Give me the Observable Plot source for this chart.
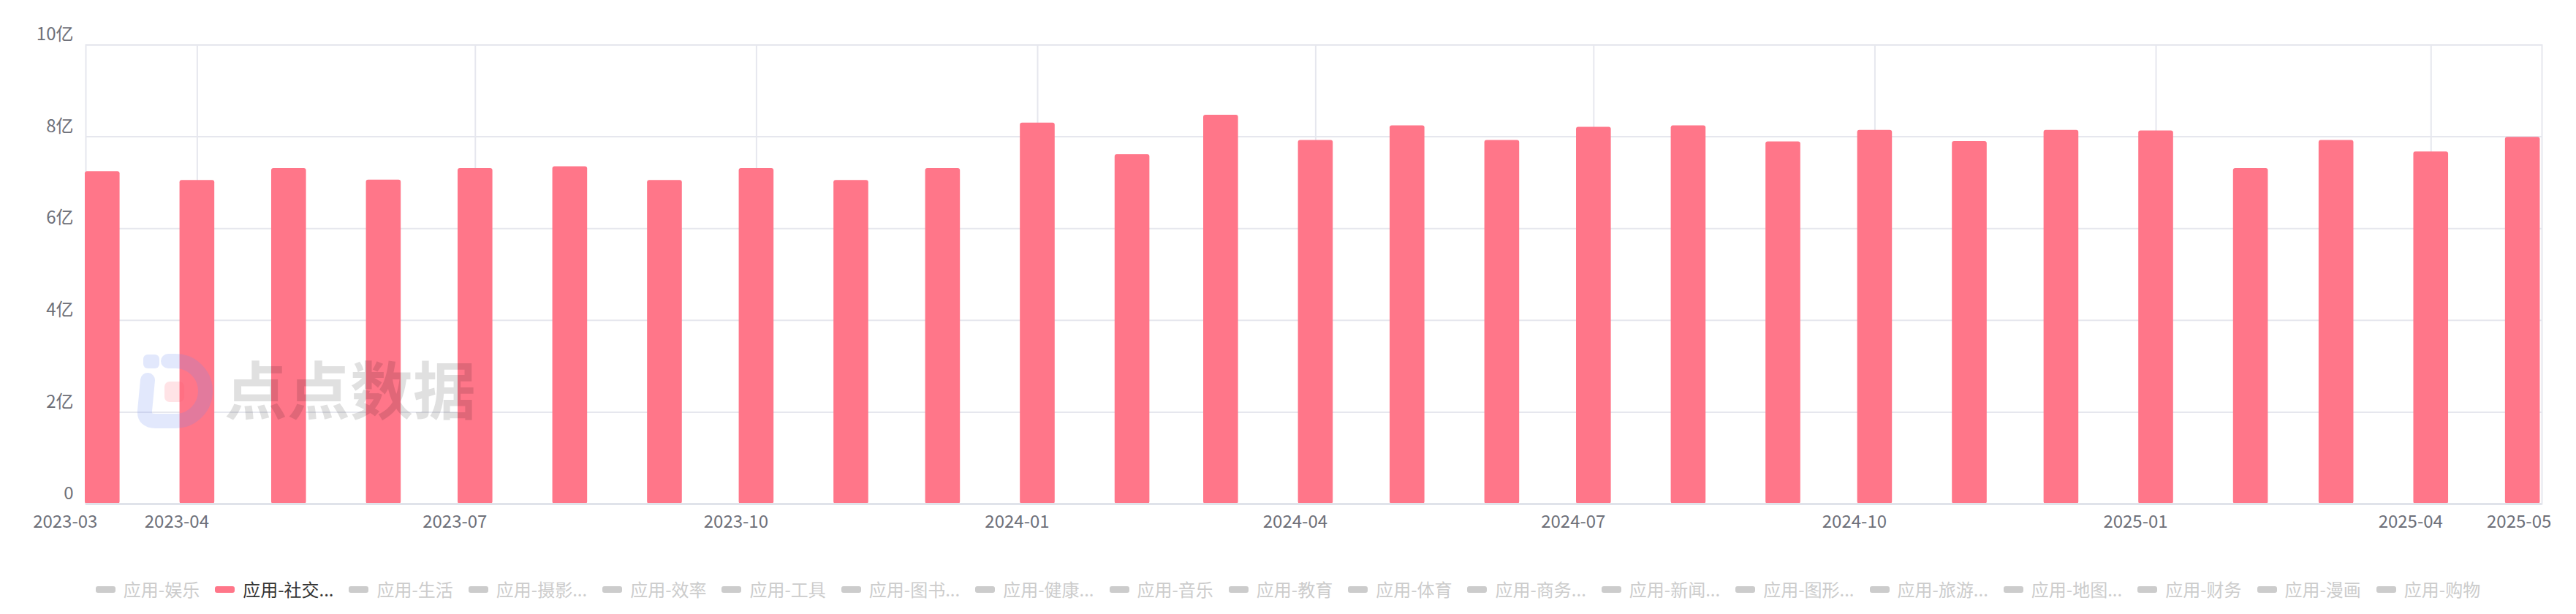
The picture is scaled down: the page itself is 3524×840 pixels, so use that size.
<!DOCTYPE html>
<html>
<head>
<meta charset="utf-8">
<script src="https://cdn.jsdelivr.net/npm/d3@7"></script>
<script src="https://cdn.jsdelivr.net/npm/@observablehq/plot@0.6"></script>
<style>
  html, body { margin: 0; padding: 0; background: #fff; }
  #wrap { position: relative; width: 3524px; height: 840px; overflow: hidden; font-family: "Noto Sans CJK SC", "Noto Sans", sans-serif; }
  #chart svg { display: block; }
  #legend { position: absolute; left: 0; top: 788px; width: 3524px; display: flex; justify-content: center; align-items: center; font-size: 24px; line-height: 36px; }
  .item { display: flex; align-items: center; margin: 0 10.5px; color: #cccccc; white-space: nowrap; }
  .item.active { color: #333333; }
  .sw { width: 27px; height: 9px; border-radius: 3px; background: #cccccc; margin-right: 11px; }
  .item.active .sw { background: #ff7689; }
  #wm { position: absolute; left: 185px; top: 482px; pointer-events: none; }
  #wmText { position: absolute; left: 307px; top: 487px; font-size: 86px; line-height: 1; font-weight: 700; color: rgba(0,0,0,0.12); letter-spacing: 0px; font-family: "Noto Sans CJK SC", sans-serif; pointer-events: none; }
</style>
</head>
<body>
<div id="wrap">
  <div id="chart"></div>
  <svg id="wm" width="115" height="110" viewBox="0 0 115 110">
    <rect x="11" y="3" width="22" height="19" rx="6" fill="rgba(110,140,240,0.2)"/>
    <path d="M 17 38 L 13 80 Q 12 94 28 94 H 55 A 41 41 0 0 0 55 12 H 45" fill="none" stroke="rgba(110,140,240,0.2)" stroke-width="20" stroke-linecap="round" stroke-linejoin="round"/>
    <rect x="40" y="40" width="27" height="28" rx="7" fill="rgba(255,80,100,0.16)"/>
  </svg>
  <div id="wmText">点点数据</div>
  <div id="legend"></div>
</div>
<script>
// ---- data ----
const months = ["2023-03","2023-04","2023-05","2023-06","2023-07","2023-08","2023-09","2023-10","2023-11","2023-12",
                "2024-01","2024-02","2024-03","2024-04","2024-05","2024-06","2024-07","2024-08","2024-09","2024-10","2024-11","2024-12",
                "2025-01","2025-02","2025-03","2025-04","2025-05"];
const values = [7.24, 7.05, 7.31, 7.06, 7.31, 7.35, 7.05, 7.31, 7.05, 7.31,
                8.30, 7.61, 8.47, 7.92, 8.24, 7.92, 8.21, 8.24, 7.89, 8.14, 7.90, 8.14,
                8.13, 7.31, 7.92, 7.67, 7.99];
const xTickLabels = ["2023-03","2023-04","2023-07","2023-10","2024-01","2024-04","2024-07","2024-10","2025-01","2025-04","2025-05"];
const xGridMonths = ["2023-04","2023-07","2023-10","2024-01","2024-04","2024-07","2024-10","2025-01","2025-04"];
const yTicks = [0, 2, 4, 6, 8, 10];
const legendNames = ["应用-娱乐","应用-社交...","应用-生活","应用-摄影...","应用-效率","应用-工具","应用-图书...","应用-健康...","应用-音乐","应用-教育","应用-体育","应用-商务...","应用-新闻...","应用-图形...","应用-旅游...","应用-地图...","应用-财务","应用-漫画","应用-购物"];
const activeSeries = "应用-社交...";

// ---- build ----
const parse = s => new Date(Date.UTC(+s.slice(0, 4), +s.slice(5, 7) - 1, 1));
const data = months.map((m, i) => ({date: parse(m), value: values[i]}));
const tickData = xTickLabels.map(l => ({date: parse(l), label: l}));
const gridDates = xGridMonths.map(parse);
const DAY = 864e5;
const xDomain = [new Date(+data[0].date - 5.45 * DAY), new Date(+data[data.length - 1].date + 6.3 * DAY)];

const grid = "#e6e7ee";
const axisColor = "#6e7079";
const first = tickData.slice(0, 1), last = tickData.slice(-1), mid = tickData.slice(1, -1);

const chart = Plot.plot({
  width: 3524,
  height: 760,
  marginTop: 61,
  marginBottom: 71,
  marginLeft: 117,
  marginRight: 47,
  x: {type: "utc", domain: xDomain, axis: null},
  y: {domain: [0, 10], axis: null},
  style: {fontFamily: "'Noto Sans CJK SC', 'Noto Sans', sans-serif", fontSize: "24px", background: "transparent"},
  marks: [
    Plot.ruleY(yTicks.slice(1), {stroke: grid, strokeWidth: 2}),
    Plot.ruleX(gridDates, {stroke: grid, strokeWidth: 2}),
    Plot.frame({stroke: grid, strokeWidth: 2}),
    Plot.rectY(data, {x1: "date", x2: "date", y: "value", insetLeft: -23.8, insetRight: -23.8, fill: "#ff7689", rx: 3}),
    Plot.ruleY([0], {stroke: "#e0e3ea", strokeWidth: 3}),
    Plot.text(yTicks, {y: d => d, frameAnchor: "left", text: d => d === 0 ? "0" : d + "亿", textAnchor: "end", dx: -17, dy: -14, fill: axisColor}),
    Plot.text(mid, {x: "date", frameAnchor: "bottom", text: "label", dy: 32, dx: -28, fill: axisColor}),
    Plot.text(first, {x: "date", frameAnchor: "bottom", text: "label", dy: 32, dx: -51, fill: axisColor}),
    Plot.text(last, {x: "date", frameAnchor: "bottom", text: "label", dy: 32, dx: -5, fill: axisColor})
  ]
});
document.getElementById("chart").appendChild(chart);

const legend = document.getElementById("legend");
legendNames.forEach(n => {
  const it = document.createElement("div");
  it.className = "item" + (n === activeSeries ? " active" : "");
  const sw = document.createElement("div");
  sw.className = "sw";
  const t = document.createElement("span");
  t.textContent = n;
  it.appendChild(sw);
  it.appendChild(t);
  legend.appendChild(it);
});
</script>
</body>
</html>
